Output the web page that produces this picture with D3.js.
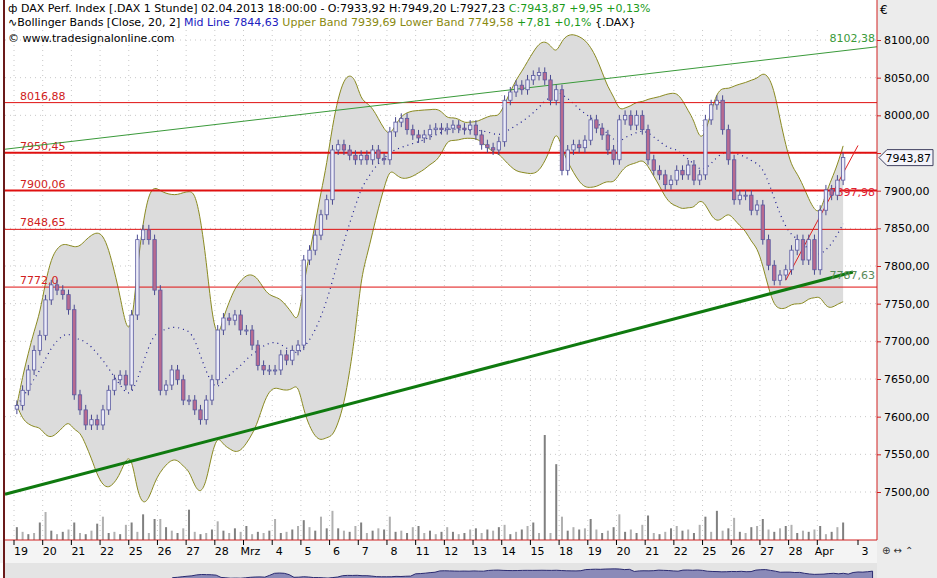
<!DOCTYPE html>
<meta charset="utf-8">
<script src="https://d3js.org/d3.v7.min.js"></script>
<style>
body { margin: 0; background: #fff; }
text { font-family: "DejaVu Sans", sans-serif; }
</style>
<div id="chart"></div>
<script>

// day labels under the x axis (5 hourly-ish bars per day)
var dayLabels = ["19","20","21","22","25","26","27","28","Mrz","4","5","6","7","8","11","12","13","14","15","18","19","20","21","22","25","26","27","28","Apr"];

// closing prices, 5 per day
var closes = [
  7615,7635,7662,7688,7708,
  7755,7775,7768,7762,7742,
  7629,7609,7589,7596,7589,
  7609,7635,7649,7655,7642,
  7735,7835,7848,7835,7768,
  7635,7642,7662,7649,7622,
  7622,7609,7596,7622,7649,
  7715,7731,7728,7735,7715,
  7715,7695,7668,7662,7662,
  7662,7682,7675,7688,7695,
  7808,7821,7841,7868,7888,
  7954,7961,7954,7947,7941,
  7947,7941,7954,7943,7941,
  7978,7991,7996,7981,7974,
  7970,7974,7981,7983,7981,
  7983,7987,7983,7981,7987,
  7974,7961,7957,7954,7965,
  8020,8031,8040,8034,8047,
  8053,8057,8047,8020,8034,
  7927,7954,7961,7957,7967,
  7994,7983,7974,7954,7941,
  7994,8000,7987,8000,7981,
  7941,7927,7921,7908,7914,
  7927,7921,7934,7914,7921,
  7994,8014,8020,7981,7941,
  7888,7894,7894,7874,7881,
  7835,7801,7781,7788,7795,
  7821,7835,7808,7835,7795,
  7874,7901,7894,7914,7944
];

// traded volume per bar (relative units)
var volume = [
  22,14,10,12,30, 48,16,10,14,18, 30,12,10,16,28, 40,12,14,10,26,
  30,14,44,12,36, 36,22,16,12,20, 52,14,10,12,18, 32,16,12,20,14,
  24,10,14,12,16, 36,12,14,18,24, 34,22,16,40,20, 50,20,16,14,24,
  30,12,16,20,18, 40,14,16,12,22, 24,12,16,10,14, 22,14,10,12,18,
  20,12,18,16,22, 26,10,14,18,24, 30,12,16,12,28, 40,16,22,18,20,
  36,18,12,16,22, 44,14,18,12,26, 42,12,10,14,20, 24,16,18,12,26,
  40,14,50,16,20, 38,14,12,22,24, 36,18,14,20,24, 26,12,16,14,18,
  24,10,14,22,30
];
var volumeSpikes = {92: 180, 94: 130};

var hLevels = [
  {v: 8016.88, label: "8016,88", w: 1},
  {v: 7950.45, label: "7950,45", w: 2},
  {v: 7900.06, label: "7900,06", w: 2},
  {v: 7848.65, label: "7848,65", w: 1},
  {v: 7772.0,  label: "7772,0",  w: 1}
];
var yTicks = [8100,8050,8000,7950,7900,7850,7800,7750,7700,7650,7600,7550,7500];

var W = 937, H = 578;
var plotL = 5, plotR = 877, plotT = 30, plotB = 540;
var perDay = 5, n = closes.length;

var svg = d3.select("#chart").append("svg").attr("width", W).attr("height", H);

// right panel background
svg.append("rect").attr("x", plotR).attr("y", 0).attr("width", W - plotR).attr("height", H).attr("fill", "#ececec");
svg.append("rect").attr("x", 0).attr("y", plotB).attr("width", plotR).attr("height", 23).attr("fill", "#f4f4f4");

var x = d3.scaleLinear().domain([-0.5, n - 0.5]).range([14, 846]);
var dayX = function(i) { return x(i * perDay - 0.5); };
var y = d3.scaleLinear().domain([7500, 8100]).range([492, 40]);
var yv = d3.scaleLinear().domain([0, 60]).range([plotB, 505]);

// grid
var grid = svg.append("g").attr("stroke", "#c8c8c8").attr("stroke-dasharray", "1,4");
yTicks.forEach(function(t) {
  grid.append("line").attr("x1", plotL).attr("x2", plotR).attr("y1", y(t)).attr("y2", y(t));
});
dayLabels.forEach(function(d, i) {
  grid.append("line").attr("x1", dayX(i)).attr("x2", dayX(i)).attr("y1", plotT).attr("y2", plotB);
});

// bollinger bands
var per = 11, bb = [];
closes.forEach(function(c, i) {
  var win = closes.slice(Math.max(0, i - per + 1), i + 1);
  var m = d3.mean(win), sd = d3.deviation(win) || 0;
  bb.push({i: i, m: m, u: m + 2 * sd, l: m - 2 * sd});
});
svg.append("path").datum(bb)
  .attr("fill", "#dcdcdc").attr("stroke", "none")
  .attr("d", d3.area().curve(d3.curveBasis).x(function(d) { return x(d.i); })
    .y0(function(d) { return y(d.l); }).y1(function(d) { return y(d.u); }));
["u", "l"].forEach(function(k) {
  svg.append("path").datum(bb).attr("fill", "none").attr("stroke", "#8a8a20").attr("stroke-width", 1)
    .attr("d", d3.line().curve(d3.curveBasis).x(function(d) { return x(d.i); }).y(function(d) { return y(d[k]); }));
});
svg.append("path").datum(bb).attr("fill", "none").attr("stroke", "#1a1a90").attr("stroke-width", 1.2)
  .attr("stroke-dasharray", "1,4")
  .attr("d", d3.line().curve(d3.curveBasis).x(function(d) { return x(d.i); }).y(function(d) { return y(d.m); }));

// horizontal levels
hLevels.forEach(function(h) {
  svg.append("line").attr("x1", plotL).attr("x2", plotR).attr("y1", y(h.v)).attr("y2", y(h.v))
    .attr("stroke", "#e01010").attr("stroke-width", h.w);
  svg.append("text").attr("x", 20).attr("y", y(h.v) - 3).attr("fill", "#d02020").attr("font-size", 11).text(h.label);
});

// trendlines
svg.append("line").attr("x1", plotL).attr("y1", y(7955)).attr("x2", plotR).attr("y2", y(8091))
  .attr("stroke", "#3a9a3a").attr("stroke-width", 1);
svg.append("text").attr("x", 875).attr("y", y(8102) + 4).attr("text-anchor", "end").attr("fill", "#3a9a3a").attr("font-size", 11).text("8102,38");
svg.append("line").attr("x1", plotL).attr("y1", y(7497)).attr("x2", 853).attr("y2", y(7792))
  .attr("stroke", "#0f7a0f").attr("stroke-width", 3);
svg.append("text").attr("x", 875).attr("y", y(7787.6) + 4).attr("text-anchor", "end").attr("fill", "#5a8a5a").attr("font-size", 11).text("7787,63");
svg.append("line").attr("x1", x(134)).attr("y1", y(7781)).attr("x2", 858).attr("y2", y(7960))
  .attr("stroke", "#e02020").attr("stroke-width", 1);
svg.append("text").attr("x", 875).attr("y", y(7898) + 4).attr("text-anchor", "end").attr("fill", "#e02030").attr("font-size", 11).text("7897,98");

// volume
svg.append("g").selectAll("rect").data(volume).join("rect")
  .attr("x", function(d, i) { return x(i) - 1; })
  .attr("width", 2)
  .attr("y", function(d, i) { return yv(volumeSpikes[i] || d); })
  .attr("height", function(d, i) { return plotB - yv(volumeSpikes[i] || d); })
  .attr("fill", function(d, i) { return i % 2 ? "#b0b0b0" : "#808080"; });

// candles
var cw = 3.4;
var candles = svg.append("g");
closes.forEach(function(c, i) {
  var o = i ? closes[i - 1] : c - 5;
  var top = y(Math.max(o, c)), bot = y(Math.min(o, c));
  var cx = x(i);
  candles.append("line").attr("x1", cx).attr("x2", cx).attr("y1", top - 5).attr("y2", bot + 5)
    .attr("stroke", "#4a4a90").attr("stroke-width", 1);
  candles.append("rect").attr("x", cx - cw / 2).attr("y", top).attr("width", cw).attr("height", Math.max(1, bot - top))
    .attr("fill", c >= o ? "#ececf8" : "#b86a90").attr("stroke", "#5a5aa0").attr("stroke-width", 0.8);
});

// frame
svg.append("line").attr("x1", plotR).attr("x2", plotR).attr("y1", 0).attr("y2", plotB).attr("stroke", "#d02020");
svg.append("line").attr("x1", 5).attr("x2", plotR).attr("y1", plotB).attr("y2", plotB).attr("stroke", "#d02020");
svg.append("line").attr("x1", 4).attr("x2", 4).attr("y1", 0).attr("y2", H).attr("stroke", "#6a1a1a").attr("stroke-width", 2);

// right axis (7950 label is covered by the last price marker)
var ax = svg.append("g").attr("transform", "translate(" + plotR + ",0)")
  .call(d3.axisRight(y).tickValues(yTicks).tickSize(4).tickFormat(function(d) { return d === 7950 ? "" : d3.format(".2f")(d).replace(".", ","); }));
ax.select(".domain").remove();
ax.selectAll("line").attr("stroke", "#d02020");
ax.selectAll("text").attr("font-size", 11).attr("fill", "#000").attr("x", 7);

// last price marker
var ly = y(7943.87);
svg.append("path").attr("d", "M879," + ly + " l8,-8 h46 v16 h-46 z").attr("fill", "#f4f4fa").attr("stroke", "#404060");
svg.append("text").attr("x", 931).attr("y", ly + 4).attr("text-anchor", "end").attr("font-size", 11).text("7943,87");
svg.append("text").attr("x", 880).attr("y", 14).attr("font-size", 12).text("€");

// date axis
dayLabels.concat(["3"]).forEach(function(d, i) {
  var xx = i < dayLabels.length ? dayX(i) : 858;
  svg.append("line").attr("x1", xx).attr("x2", xx).attr("y1", plotB).attr("y2", plotB + 5).attr("stroke", "#000");
  svg.append("text").attr("x", xx + 7).attr("y", plotB + 15).attr("text-anchor", "middle").attr("font-size", 11).text(d);
});
svg.append("text").attr("x", 882).attr("y", plotB + 14).attr("font-size", 10).attr("fill", "#333").text("⊕ ↔ ⌃");

// navigator strip
svg.append("rect").attr("x", 5).attr("y", 563).attr("width", plotR - 5).attr("height", 15).attr("fill", "#e4e4e4");
var nav = d3.scaleLinear().domain([-0.5, n - 0.5]).range([170, 875]);
var navY = d3.scaleLinear().domain([7500, 8100]).range([580, 568]);
svg.append("path").datum(closes)
  .attr("fill", "#8a8ab8").attr("stroke", "#2a2a70")
  .attr("d", d3.area().x(function(d, i) { return nav(i); }).y0(580).y1(function(d) { return navY(d); }));

// header
var hdr = svg.append("g").attr("font-size", 11);
var t1 = hdr.append("text").attr("x", 8).attr("y", 12);
t1.append("tspan").attr("fill", "#000").text("ф DAX Perf. Index [.DAX  1 Stunde] 02.04.2013 18:00:00 - O:7933,92 H:7949,20 L:7927,23 ");
t1.append("tspan").attr("fill", "#1a9a1a").text("C:7943,87 +9,95 +0,13%");
var t2 = hdr.append("text").attr("x", 8).attr("y", 26);
t2.append("tspan").attr("fill", "#000").text("∿Bollinger Bands [Close, 20, 2] ");
t2.append("tspan").attr("fill", "#2020c0").text("Mid Line 7844,63 ");
t2.append("tspan").attr("fill", "#8a8a10").text("Upper Band 7939,69 Lower Band 7749,58 ");
t2.append("tspan").attr("fill", "#1a9a1a").text("+7,81 +0,1% ");
t2.append("tspan").attr("fill", "#000").text("{.DAX}");
hdr.append("text").attr("x", 8).attr("y", 42).attr("fill", "#000").text("© www.tradesignalonline.com");
</script>
